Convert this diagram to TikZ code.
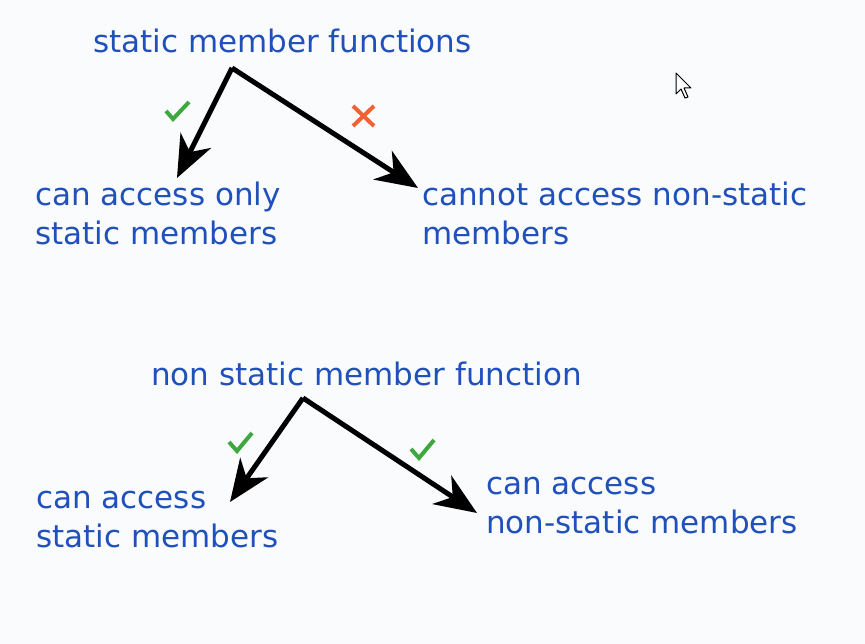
\documentclass[tikz,border=0pt]{standalone}
\usepackage{fontspec}
\setmainfont{DejaVu Sans}
\usetikzlibrary{arrows.meta}
\definecolor{memberblue}{RGB}{32,80,186}
\definecolor{okgreen}{RGB}{62,168,62}
\definecolor{nored}{RGB}{240,98,52}
\definecolor{slidebg}{RGB}{250,251,253}

\begin{document}
\begin{tikzpicture}[x=1pt,y=-1pt,
    every node/.style={font=\fontsize{31}{39}\selectfont,text=memberblue,inner sep=0pt,align=left,anchor=base west},
    linkarrow/.style={line width=5pt,-{Stealth[length=42pt,width=34pt,inset=13pt]}},
    okmark/.style={okgreen,line width=4pt},
    nomark/.style={nored,line width=4pt}]
      \fill[slidebg] (0,0) rectangle (865,644);
      \useasboundingbox (0,0) rectangle (865,644);
      % static member functions
      \node (topfn) at (93,53) {static member functions};
      \node (onlystatic) at (35,245) {can access only\\static members};
      \node (cannotns) at (422,245) {cannot access non-static\\members};
      \coordinate (topsplit) at ([xshift=139pt,yshift=-15pt]topfn.base west);
      \draw[linkarrow] (topsplit) -- ([xshift=142pt,yshift=67pt]onlystatic.base west);
      \draw[linkarrow] (topsplit) -- ([xshift=-4pt,yshift=57pt]cannotns.base west);
      \draw[okmark] (166,111) -- (173,119) -- (189,102);
      \draw[nomark] (353,106) -- (374,126) (374,106) -- (353,126);
      % non static member function
      \node (bottomfn) at (151,385) {non static member function};
      \node (accstatic) at (36,547) {can access\\static members};
      \node (accnonstatic) at (486,533) {can access\\non-static members};
      \coordinate (bottomsplit) at ([xshift=152pt,yshift=-13pt]bottomfn.base west);
      \draw[linkarrow] (bottomsplit) -- ([xshift=194pt,yshift=45pt]accstatic.base west);
      \draw[linkarrow] (bottomsplit) -- ([xshift=-9pt,yshift=20pt]accnonstatic.base west);
      \draw[okmark] (229,442) -- (237,451) -- (252,433);
      \draw[okmark] (411,449) -- (419,458) -- (434,440);
      % pointer
      \draw[fill=white,line width=1pt,line join=round] (676,73) -- (676,94) -- (681,89) -- (685,98) -- (688,97) -- (684,88) -- (691,88) -- cycle;
    \end{tikzpicture}
\end{document}
